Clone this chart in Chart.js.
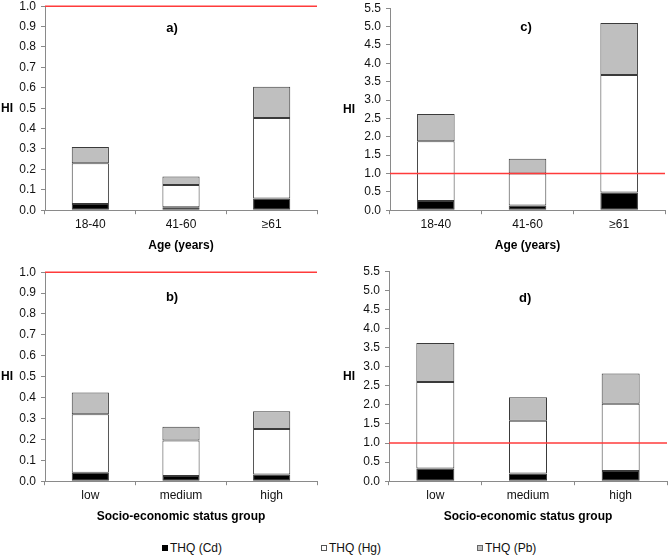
<!DOCTYPE html>
<html lang="en">
<head>
    <meta charset="UTF-8">
    <title>HI by age and socio-economic group</title>
    <script src="https://cdn.jsdelivr.net/npm/chart.js"></script>
    <style>
        body {
            margin: 0;
            background: #fff;
            font-family: 'Liberation Sans', Arial, sans-serif;
        }
        .wrap {
            position: relative;
            width: 669px;
            height: 557px;
            overflow: hidden;
        }
        canvas {
            position: absolute;
        }
        .legend {
            position: absolute;
            top: 541px;
            font-size: 12px;
            color: #111;
            white-space: nowrap;
        }
        .legend i {
            display: inline-block;
            width: 6px;
            height: 6px;
            margin-right: 2px;
            vertical-align: 1px;
            box-sizing: border-box;
        }
    </style>
</head>
<body>
<div class="wrap">
    <canvas id="chartA" width="335" height="263" style="left:0;top:-6px"></canvas>
    <canvas id="chartC" width="334" height="261" style="left:335px;top:-4px"></canvas>
    <canvas id="chartB" width="335" height="268" style="left:0;top:260px"></canvas>
    <canvas id="chartD" width="334" height="269" style="left:335px;top:259px"></canvas>

    <div class="legend" style="left:162px"><i style="background:#000"></i>THQ (Cd)</div>
    <div class="legend" style="left:321px"><i style="background:#fff;border:1px solid #555"></i>THQ (Hg)</div>
    <div class="legend" style="left:477px"><i style="background:#bfbfbf;border:1px solid #666"></i>THQ (Pb)</div>
</div>

<script>
    // categories
    const ageGroups = ['18-40', '41-60', '\u226561'];
    const sesGroups = ['low', 'medium', 'high'];

    // a) age groups, small scale
    const cdA = [0.030, 0.015, 0.057];
    const hgA = [0.200, 0.108, 0.395];
    const pbA = [0.080, 0.042, 0.153];

    // b) socio-economic groups, small scale
    const cdB = [0.040, 0.025, 0.032];
    const hgB = [0.280, 0.170, 0.218];
    const pbB = [0.105, 0.065, 0.085];

    // c) age groups, large scale
    const cdC = [0.25, 0.13, 0.48];
    const hgC = [1.63, 0.87, 3.20];
    const pbC = [0.74, 0.40, 1.42];

    // d) socio-economic groups, large scale
    const cdD = [0.33, 0.20, 0.27];
    const hgD = [2.27, 1.38, 1.76];
    const pbD = [1.02, 0.62, 0.79];

    const limitHI = 1.0;

    const FONT = "'Liberation Sans', Arial, sans-serif";
    const axisGrey = '#8a8a8a';

    function makeChart(id, labels, cd, hg, pb, yMax, step, tag, axisTitle, cfg) {
        const extras = {
            id: 'extras_' + id,
            afterDatasetsDraw(chart) {
                const ctx = chart.ctx;
                const area = chart.chartArea;
                const y = chart.scales.y.getPixelForValue(limitHI);
                ctx.save();
                // reference line at HI = 1
                ctx.strokeStyle = '#ff3b3b';
                ctx.lineWidth = 1.5;
                ctx.beginPath();
                ctx.moveTo(area.left, y);
                ctx.lineTo(area.right, y);
                ctx.stroke();
                // panel tag
                ctx.fillStyle = '#000';
                ctx.font = 'bold 13px ' + FONT;
                ctx.textAlign = 'center';
                ctx.textBaseline = 'middle';
                ctx.fillText(tag, area.left + cfg.tagX * (area.right - area.left),
                    area.top + cfg.tagY * (area.bottom - area.top));
                // HI label
                ctx.font = 'bold 12px ' + FONT;
                ctx.fillText('HI', cfg.hiX, (area.top + area.bottom) / 2);
                ctx.restore();
            }
        };

        const seg = {
            borderColor: '#3a3a3a',
            borderWidth: 1,
            borderSkipped: false,
            barPercentage: 0.41,
            categoryPercentage: 1.0
        };

        return new Chart(document.getElementById(id), {
            type: 'bar',
            data: {
                labels: labels,
                datasets: [
                    Object.assign({ label: 'THQ (Cd)', data: cd, backgroundColor: '#000000' }, seg),
                    Object.assign({ label: 'THQ (Hg)', data: hg, backgroundColor: '#ffffff' }, seg),
                    Object.assign({ label: 'THQ (Pb)', data: pb, backgroundColor: '#bfbfbf' }, seg)
                ]
            },
            options: {
                responsive: false,
                animation: false,
                layout: { padding: { top: 0, right: cfg.padRight, left: 0, bottom: 0 } },
                plugins: {
                    legend: { display: false },
                    tooltip: { enabled: false }
                },
                scales: {
                    x: {
                        stacked: true,
                        grid: { drawOnChartArea: false, tickLength: 4, color: axisGrey },
                        border: { color: axisGrey },
                        ticks: { color: '#111', font: { family: FONT, size: 12 }, padding: 3 },
                        title: {
                            display: true,
                            text: axisTitle,
                            color: '#000',
                            font: { family: FONT, size: 12, weight: 'bold' },
                            padding: { top: 4, bottom: 4 }
                        }
                    },
                    y: {
                        stacked: true,
                        min: 0,
                        max: yMax,
                        afterFit(scale) { scale.width = cfg.yWidth; },
                        grid: { drawOnChartArea: false, tickLength: 4, color: axisGrey },
                        border: { color: axisGrey },
                        ticks: {
                            stepSize: step,
                            color: '#111',
                            padding: 5,
                            font: { family: FONT, size: 12 },
                            callback: v => v.toFixed(1)
                        }
                    }
                }
            },
            plugins: [extras]
        });
    }

    makeChart('chartA', ageGroups, cdA, hgA, pbA, 1.0, 0.1, 'a)', 'Age (years)',
        { padRight: 18, yWidth: 45, hiX: 7, tagX: 0.467, tagY: 0.108 });
    makeChart('chartC', ageGroups, cdC, hgC, pbC, 5.5, 0.5, 'c)', 'Age (years)',
        { padRight: 4, yWidth: 55, hiX: 14, tagX: 0.495, tagY: 0.095 });
    makeChart('chartB', sesGroups, cdB, hgB, pbB, 1.0, 0.1, 'b)', 'Socio-economic status group',
        { padRight: 18, yWidth: 45, hiX: 7, tagX: 0.467, tagY: 0.12 });
    makeChart('chartD', sesGroups, cdD, hgD, pbD, 5.5, 0.5, 'd)', 'Socio-economic status group',
        { padRight: 2, yWidth: 54, hiX: 14, tagX: 0.49, tagY: 0.13 });
</script>
</body>
</html>
